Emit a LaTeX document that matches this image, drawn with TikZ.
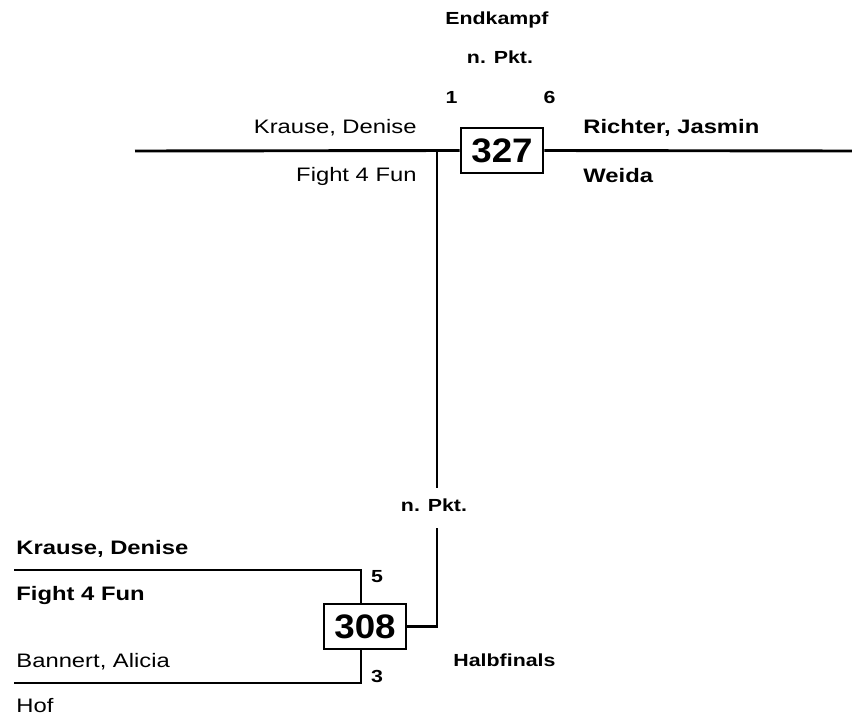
\documentclass[tikz,border=0pt]{standalone}
\usepackage{fontspec}
\setmainfont{Liberation Sans}[FakeStretch=1.22]
\newfontfamily\boxnumfont{Liberation Sans}[FakeStretch=1.08]

\begin{document}
\begin{tikzpicture}[x=1pt, y=-1pt, line width=2.9pt,
  every node/.style={inner sep=0pt},
  fighter/.style={font=\fontsize{19.5}{22}\selectfont},
  winner/.style={font=\fontsize{19.5}{22}\selectfont\bfseries},
  tag/.style={font=\fontsize{17.5}{20}\selectfont\bfseries},
  fightbox/.style={draw, line width=2.9pt, minimum width=82pt, minimum height=45pt,
    font=\boxnumfont\fontsize{34}{36}\selectfont\bfseries}]

\useasboundingbox (0,0) rectangle (852,722);

% FINAL
\node[fightbox] (f327) at (502,150.5) {327};

%header
\node[tag, anchor=base] (title327) at (497,25) {Endkampf};
\node[tag, anchor=base] (pts327) at (500,64) {n. Pkt.};
\node[tag, anchor=base] (red327) at (451.5,104) {1};
\node[tag, anchor=base] (blue327) at (549.5,104) {6};

%fighters
\node[fighter, anchor=base east] (redname327) at (418,134) {Krause, Denise};
\node[fighter, anchor=base east] (redclub327) at (418,182) {Fight 4 Fun};
\node[winner, anchor=base west] (bluename327) at (582,134) {Richter, Jasmin};
\node[winner, anchor=base west] (blueclub327) at (582,183) {Weida};

%lines
\coordinate (lft327) at (135,151);
\coordinate (rgt327) at (852,151);
\coordinate (join327) at (437,151);
\draw (lft327) -- (f327.west);
\draw (f327.east) -- (rgt327);
\draw (join327) -- (437,488) coordinate (up308);

% SEMIFINAL
\node[fightbox] (f308) at (365,626.5) {308};

\node[tag, anchor=base] (pts308) at (434,511) {n. Pkt.};
\node[tag, anchor=base west] (title308) at (452,666) {Halbfinals};
\node[tag, anchor=base] (red308) at (377,582) {5};
\node[tag, anchor=base] (blue308) at (377,682) {3};

%fighters
\node[winner, anchor=base west] (redname308) at (15,554) {Krause, Denise};
\node[winner, anchor=base west] (redclub308) at (15,600) {Fight 4 Fun};
\node[fighter, anchor=base west] (bluename308) at (15,667) {Bannert, Alicia};
\node[fighter, anchor=base west] (blueclub308) at (15,712) {Hof};

%lines
\coordinate (redline308) at (14,570);
\coordinate (blueline308) at (14,683);
\coordinate (down308) at (437,528);
\draw (redline308) -| ([xshift=-4pt]f308.north);
\draw (blueline308) -| ([xshift=-4pt]f308.south);
\draw (down308) |- (f308.east);

\end{tikzpicture}
\end{document}
